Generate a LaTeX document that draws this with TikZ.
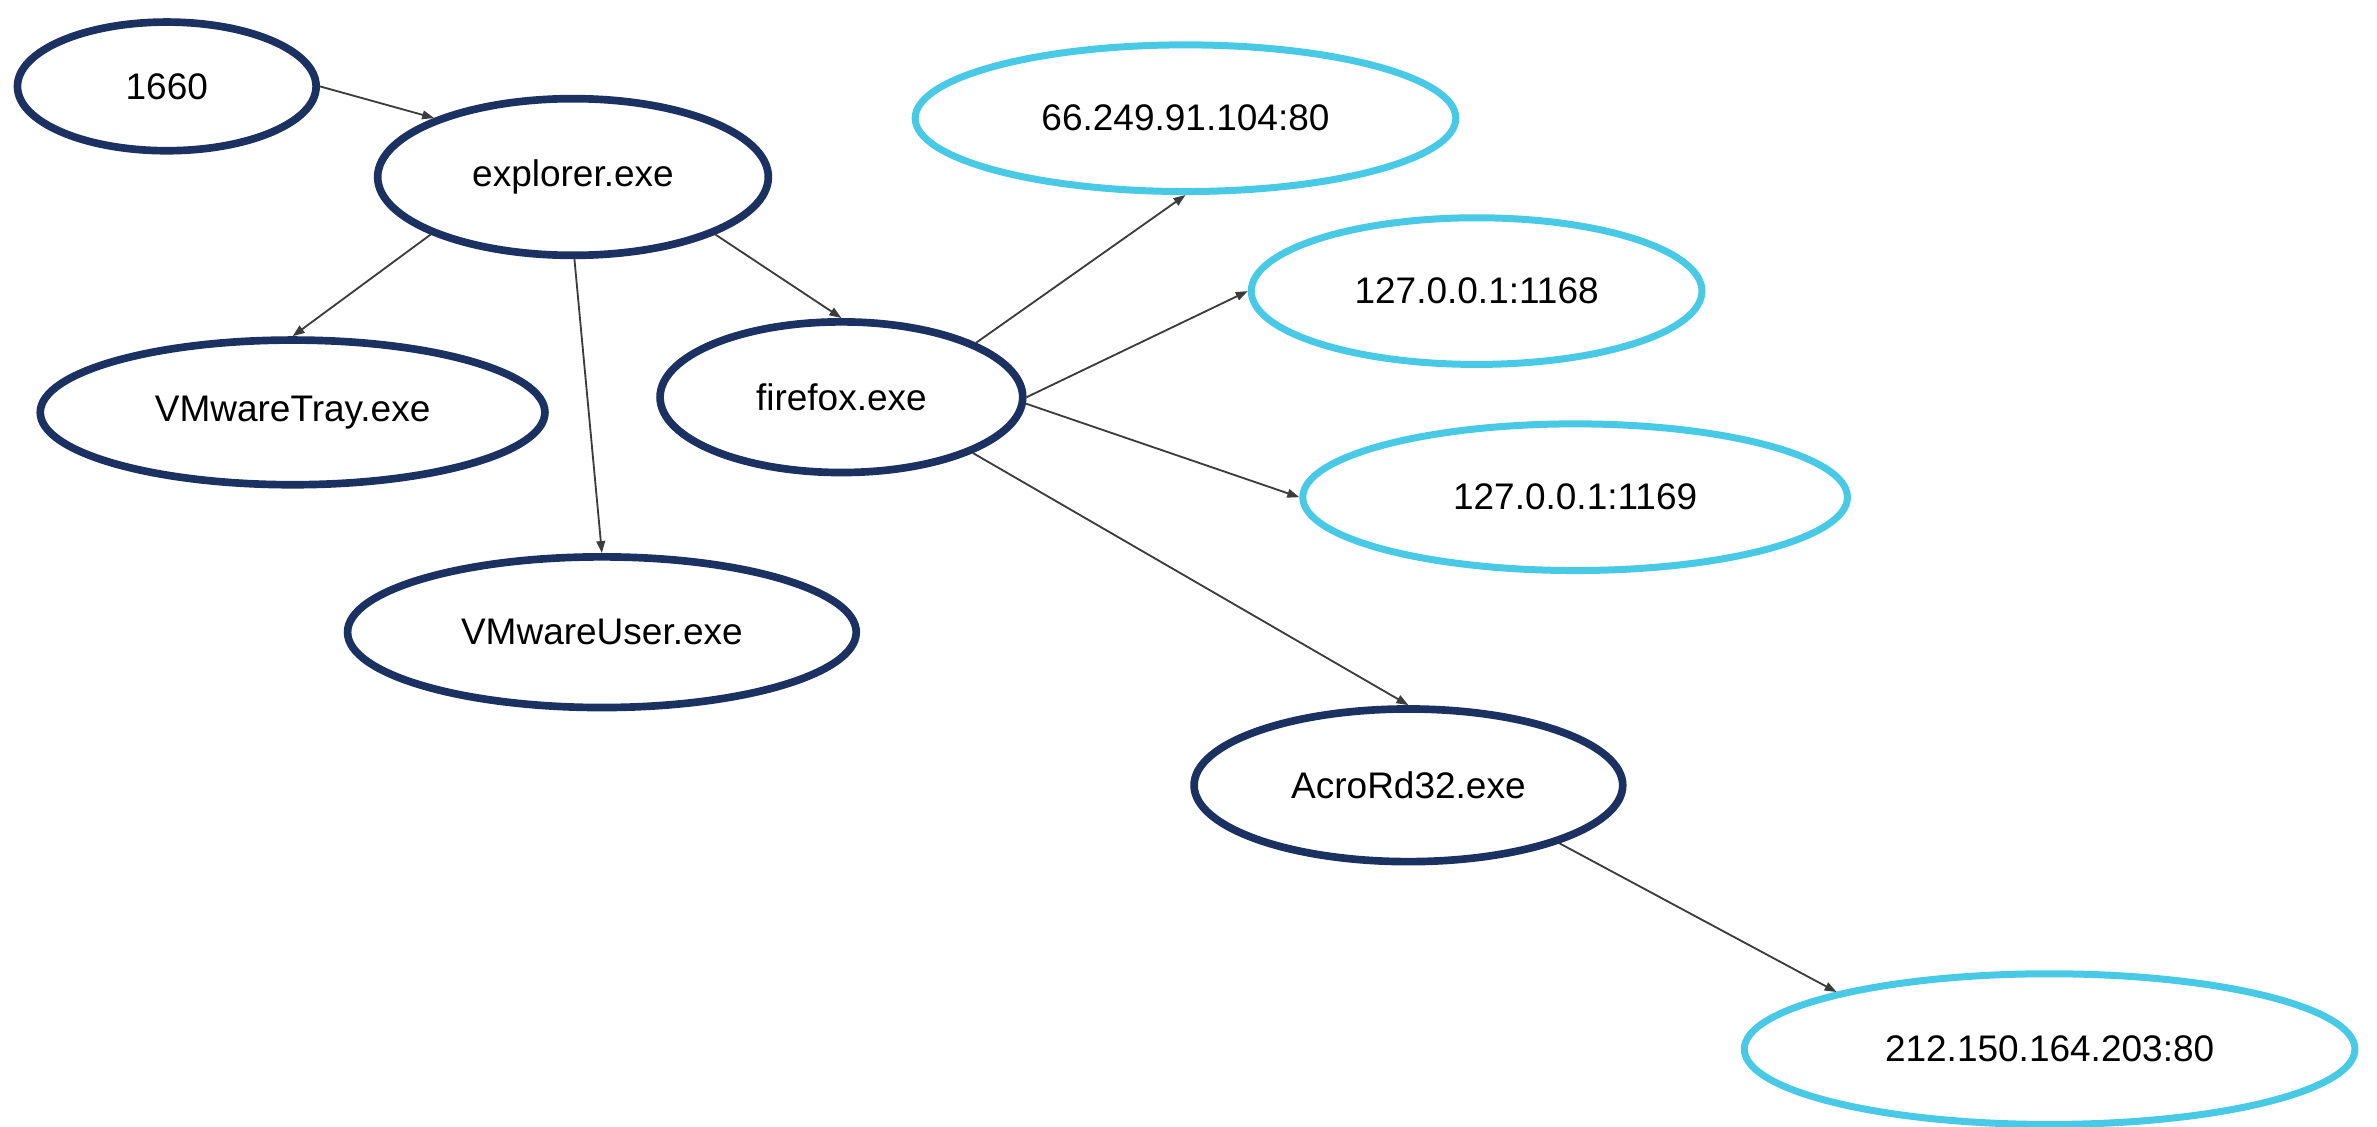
\documentclass[tikz,border=0pt]{standalone}
\usepackage{fontspec}
\setmainfont{Liberation Sans}
\usetikzlibrary{shapes.geometric,arrows.meta}
\definecolor{navy}{HTML}{1B3161}
\definecolor{cyanring}{HTML}{48CAE6}
\definecolor{edgegray}{HTML}{3C3C3C}
\tikzset{
  proc/.style={ellipse, draw=navy, line width=2.3pt, inner sep=0pt, font=\fontsize{11.1}{13}\selectfont},
  net/.style={ellipse, draw=cyanring, line width=2.1pt, inner sep=0pt, font=\fontsize{11.1}{13}\selectfont},
  link/.style={draw=edgegray, line width=0.55pt, -{Triangle[length=3.6pt,width=2.6pt]}}
}
\begin{document}
\begin{tikzpicture}[x=0.3pt,y=-0.3pt]
\useasboundingbox (0,0) rectangle (2377,1126);
\node[proc, minimum width=89.6pt, minimum height=38.6pt] (n1660) at (166.8,86.4) {1660};
\node[proc, minimum width=117.2pt, minimum height=47pt] (explorer) at (573,177) {explorer.exe};
\node[proc, minimum width=151.4pt, minimum height=43.4pt] (tray) at (292.6,412.4) {VMwareTray.exe};
\node[proc, minimum width=152.6pt, minimum height=45.2pt] (user) at (601.9,632.2) {VMwareUser.exe};
\node[proc, minimum width=108.8pt, minimum height=45.2pt] (firefox) at (841.4,397.2) {firefox.exe};
\node[net, minimum width=162.2pt, minimum height=44pt] (ip66) at (1185.5,118.2) {66.249.91.104:80};
\node[net, minimum width=135.2pt, minimum height=44pt] (ip1168) at (1476.6,291.1) {127.0.0.1:1168};
\node[net, minimum width=163.4pt, minimum height=44pt] (ip1169) at (1575.1,497.2) {127.0.0.1:1169};
\node[proc, minimum width=128.6pt, minimum height=45.8pt] (acro) at (1408.4,785.3) {AcroRd32.exe};
\node[net, minimum width=183.2pt, minimum height=45.2pt] (ip212) at (2049.6,1049.1) {212.150.164.203:80};
\draw[link] (n1660.east) -- (explorer.157);
\draw[link] (explorer.202) -- (tray.north);
\draw[link] (explorer.271) -- (user.north);
\draw[link] (explorer.338) -- (firefox.north);
\draw[link] (firefox.22) -- (ip66.south);
\draw[link] (firefox.east) -- (ip1168.west);
\draw[link] (firefox.358) -- (ip1169.west);
\draw[link] (firefox.337) -- (acro.north);
\draw[link] (acro.339) -- (ip212.165);
\end{tikzpicture}
\end{document}
